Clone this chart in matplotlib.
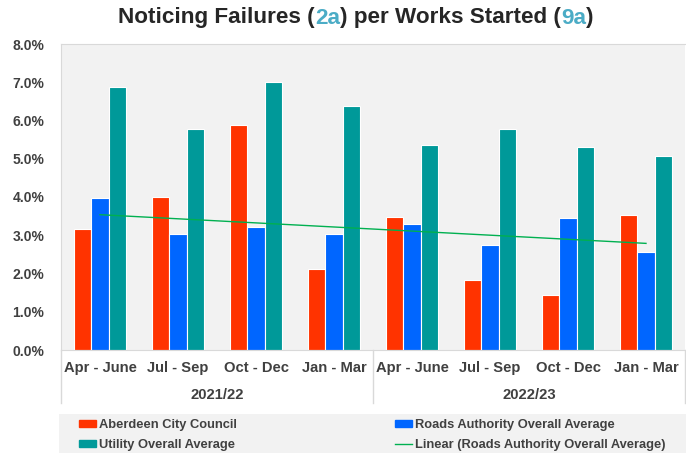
import numpy as np
import matplotlib
matplotlib.use("Agg")
import matplotlib.pyplot as plt
from matplotlib.patches import Patch, Rectangle
from matplotlib.lines import Line2D
import matplotlib.transforms as mtransforms

plt.rcParams['font.family'] = ['Liberation Sans', 'DejaVu Sans']

# data (percent)
quarters = ["Apr - June", "Jul - Sep", "Oct - Dec", "Jan - Mar",
            "Apr - June", "Jul - Sep", "Oct - Dec", "Jan - Mar"]
years = ["2021/22", "2022/23"]
aberdeen = [3.16, 4.01, 5.87, 2.12, 3.47, 1.83, 1.43, 3.54]
roads_avg = [3.98, 3.03, 3.22, 3.02, 3.30, 2.74, 3.45, 2.56]
utility_avg = [6.87, 5.78, 7.00, 6.38, 5.35, 5.79, 5.32, 5.06]

red = "#ff3300"
blue = "#0066ff"
teal = "#009999"
green = "#00b050"
dark = "#262626"
tick_col = "#404040"
accent = "#4bacc6"

W, H = 686, 454
fig = plt.figure(figsize=(W / 100, H / 100), dpi=100)
ax = fig.add_axes([61 / W, 1 - 350 / H, (685 - 61) / W, (350 - 44) / H])
ax.set_facecolor("#f2f2f2")

x = np.arange(len(quarters))
bw = 0.226
ax.bar(x - bw, aberdeen, bw, color=red, edgecolor="white", linewidth=0.8, zorder=2)
ax.bar(x, roads_avg, bw, color=blue, edgecolor="white", linewidth=0.8, zorder=2)
ax.bar(x + bw, utility_avg, bw, color=teal, edgecolor="white", linewidth=0.8, zorder=2)

# linear trend of roads authority average
k, b = np.polyfit(x, roads_avg, 1)
ax.plot(x, k * x + b, color=green, lw=1, zorder=3)

ax.set_xlim(-0.5, len(quarters) - 0.5)
ax.set_ylim(0, 8)
ax.set_yticks(np.arange(0, 9, 1))
ax.set_yticklabels([f"{v:.1f}%" for v in range(9)], fontsize=10, fontweight="bold", color=tick_col)
ax.tick_params(axis="y", length=0, pad=12)
ax.set_xticks([])
for s in ax.spines.values():
    s.set_color("#d9d9d9")
ax.spines["right"].set_visible(False)

# category labels below axis
trans = mtransforms.blended_transform_factory(ax.transData, ax.transAxes)
for i, q in enumerate(quarters):
    ax.text(i, -18 / 306, q, transform=trans, ha="center", va="center",
            fontsize=10.6, fontweight="bold", color=tick_col)
for j, yr in enumerate(years):
    ax.text(j * 4 + 1.5, -45 / 306, yr, transform=trans, ha="center", va="center",
            fontsize=10.6, fontweight="bold", color=tick_col)
for xs in [-0.5, 3.5, 7.5]:
    ax.plot([xs, xs], [0, -53 / 306], transform=trans, color="#d9d9d9",
            lw=1, clip_on=False)

# legend
fig.patches.append(Rectangle((59 / W, 1 - 453 / H), (686 - 59) / W, 39 / H,
                             transform=fig.transFigure, facecolor="#f2f2f2",
                             edgecolor="none", zorder=0))
h1 = [Patch(color=red, label="Aberdeen City Council"),
      Patch(color=teal, label="Utility Overall Average")]
h2 = [Patch(color=blue, label="Roads Authority Overall Average"),
      Line2D([], [], color=green, lw=1, label="Linear (Roads Authority Overall Average)")]
leg_kw = dict(frameon=False, prop=dict(size=9.3, weight="bold"), handlelength=1.3,
              handleheight=0.5, handletextpad=0.25, labelspacing=0.62, borderaxespad=0,
              borderpad=0, labelcolor=tick_col)
leg1 = fig.legend(handles=h1, loc="upper left", bbox_to_anchor=(79 / W, 1 - 419 / H), **leg_kw)
leg2 = fig.legend(handles=h2, loc="upper left", bbox_to_anchor=(395 / W, 1 - 419 / H), **leg_kw)

# title with coloured parts
pieces = [("Noticing Failures (", dark), ("2a", accent), (") per Works Started (", dark),
          ("9a", accent), (")", dark)]
texts = [fig.text(0, 1 - 18 / H, s, color=c, fontsize=16.2, fontweight="bold", va="center")
         for s, c in pieces]
fig.canvas.draw()
r = fig.canvas.get_renderer()
widths = [t.get_window_extent(r).width for t in texts]
xpos = 356 - sum(widths) / 2
for t, w in zip(texts, widths):
    t.set_x(xpos / W)
    xpos += w

fig.savefig("out.png", dpi=100)
